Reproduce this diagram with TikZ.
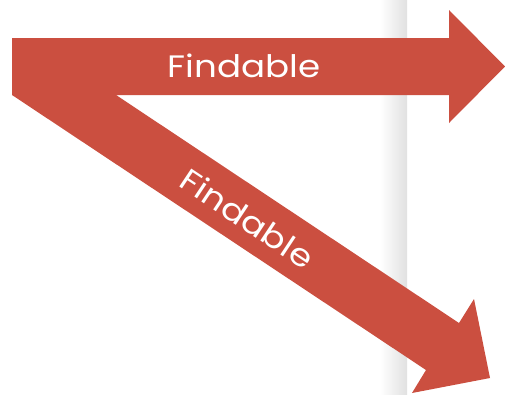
\documentclass[tikz,border=0pt]{standalone}
\usepackage{graphicx}
\usepackage{fontspec}
\setmainfont{Poppins}
\definecolor{arrowred}{RGB}{203,79,64}
\tikzset{
  arrowshape/.style={fill=arrowred, draw=none},
  label/.style={text=white, font=\fontsize{31}{31}\selectfont, inner sep=0pt}
}
\newcommand{\widetext}[1]{\scalebox{1.15}[1]{#1}}
\begin{document}
\begin{tikzpicture}[x=1pt, y=-1pt]
\useasboundingbox (0,0) rectangle (505,394);
% page edge shadow band
\shade[left color=white, right color=black!12] (380,0) rectangle (407,394);
% combined arrow shape
\fill[arrowshape] (12,38) -- (449,38) -- (449,10) -- (505,66.5) -- (449,123) -- (449,95)
  -- (116,95) -- (459,323) -- (474,299) -- (490,378) -- (412,393) -- (426,370)
  -- (12,95) -- cycle;
\node[label, anchor=base] (t1) at (244,77) {\widetext{Findable}};
\node[label, anchor=base, rotate=-33.6] (t2) at (241,228) {\widetext{Findable}};
\end{tikzpicture}
\end{document}
